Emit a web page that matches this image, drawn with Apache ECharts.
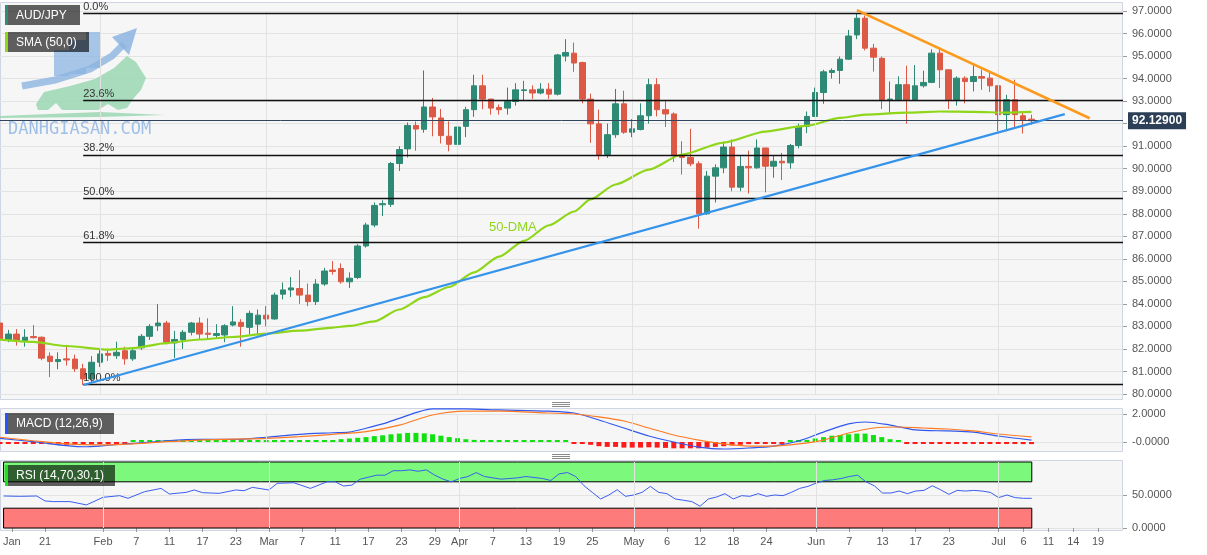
<!DOCTYPE html>
<html><head><meta charset="utf-8">
<script src="https://cdn.jsdelivr.net/npm/echarts@6/dist/echarts.min.js"></script>
<style>html,body{margin:0;padding:0;background:#fff;}#c{width:1207px;height:555px;}</style>
</head><body><div id="c"></div>
<script>
// ---------- DATA ----------
const START_DATE = '2022-01-14';
const N_CAT = 136; // trading days spanned by the axis (incl. future blank days)

const OPEN = [83.15,82.42,82.66,82.37,82.55,82.52,81.68,81.44,81.56,81.55,
81.12,80.67,81.41,81.80,81.70,81.92,81.56,82.05,82.56,83.03,
83.15,82.27,82.40,82.74,83.15,82.70,82.60,82.62,83.06,83.18,
82.96,83.10,83.50,83.33,84.43,84.62,84.68,84.39,84.10,84.88,
85.50,85.57,84.98,85.17,86.57,87.50,88.40,88.42,90.23,90.88,
91.92,91.75,92.74,92.25,91.44,91.08,91.88,92.62,93.68,93.09,
92.72,92.69,92.98,93.47,93.50,93.36,93.53,93.31,95.00,95.13,
94.71,93.09,91.99,90.63,91.51,92.88,91.62,91.74,92.35,93.73,
92.62,92.43,90.60,90.50,90.22,88.00,89.67,90.04,90.96,89.18,
90.10,90.04,90.92,90.11,90.33,90.26,91.03,91.88,92.32,93.38,
94.27,94.36,94.86,95.94,96.68,95.35,94.90,93.06,93.06,93.73,
93.06,93.68,93.83,95.13,94.39,93.06,94.02,93.87,94.09,94.02,
93.68,92.40,93.06,92.35,92.20];
const HIGH = [83.30,82.85,82.88,82.88,83.06,82.55,81.85,81.85,82.18,81.75,
81.34,81.68,81.97,82.00,82.32,82.10,82.05,82.66,83.10,83.99,
83.25,82.80,82.84,83.20,83.40,83.36,83.10,83.10,83.90,83.32,
83.70,83.75,83.90,84.50,84.95,85.19,85.50,84.90,85.10,85.60,
85.90,85.80,85.40,86.65,87.60,88.50,88.60,90.30,91.00,92.05,
92.10,94.36,93.14,92.65,92.10,92.20,92.75,94.17,94.17,93.10,
92.85,93.60,93.80,93.90,93.70,93.80,93.80,95.10,95.75,95.60,
94.75,93.33,92.62,92.00,93.54,93.46,92.20,92.90,94.00,94.02,
93.00,92.50,91.22,91.77,90.33,89.90,90.19,91.20,91.30,90.56,
90.80,91.30,90.92,90.60,90.70,91.10,92.00,92.54,93.60,94.39,
94.45,94.98,96.16,96.87,96.80,95.54,94.98,93.87,94.10,94.57,
94.60,94.35,95.30,95.35,94.40,94.10,94.10,94.69,94.40,94.30,
93.70,93.28,93.95,92.47,92.40];
const LOW = [82.15,82.30,82.15,82.10,82.46,81.50,80.75,81.10,81.26,80.98,
80.40,80.53,81.20,81.47,81.56,81.30,81.47,81.95,82.40,82.80,
82.20,81.60,82.00,82.60,82.40,82.44,82.45,82.30,83.00,82.10,
82.65,82.60,83.00,83.30,84.20,84.30,84.00,83.90,83.95,84.80,
85.30,84.90,84.70,85.10,86.50,87.40,87.90,88.30,89.90,90.50,
90.80,91.60,91.44,91.12,90.77,90.95,91.40,92.30,92.64,92.40,
92.40,92.40,92.80,93.00,93.10,93.30,93.10,93.25,94.76,94.30,
92.90,91.15,90.40,90.48,91.37,91.55,91.40,91.70,92.00,92.32,
91.85,90.30,89.74,90.11,87.34,87.95,88.50,89.80,89.00,89.00,
88.90,90.00,88.95,89.60,89.50,90.00,90.90,91.58,92.30,92.88,
94.00,93.77,94.83,95.75,95.25,94.31,92.65,92.44,93.00,92.00,
93.03,93.60,93.80,93.58,92.65,92.80,92.90,93.43,93.50,93.40,
91.66,91.66,91.81,91.56,91.95];
const CLOSE = [82.42,82.66,82.37,82.52,82.50,81.59,81.44,81.53,81.51,81.12,
80.67,81.41,81.78,81.72,81.85,81.56,81.92,82.56,83.00,83.15,
82.30,82.42,82.74,83.15,82.66,82.65,82.68,83.03,83.20,83.00,
83.58,83.50,83.33,84.39,84.62,84.71,84.39,84.10,84.88,85.46,
85.44,84.98,85.14,86.57,87.50,88.37,88.45,90.23,90.85,91.92,
91.76,92.74,92.30,91.47,91.08,91.85,92.62,93.68,93.09,92.69,
92.62,92.98,93.50,93.50,93.36,93.53,93.31,95.05,95.16,94.69,
93.09,91.99,90.63,91.51,92.88,91.62,91.77,92.35,93.73,92.62,
92.43,90.58,90.50,90.22,88.00,89.67,90.04,90.96,89.18,90.10,
90.04,90.92,90.11,90.33,90.26,91.03,91.88,92.32,93.38,94.30,
94.36,94.86,95.89,96.68,95.35,94.95,93.06,93.09,93.73,93.06,
93.68,93.83,95.13,94.39,93.06,94.02,93.87,94.09,94.02,93.68,
92.40,93.06,92.40,92.15,92.13];

// [day index, value]
const SMA50 = [[0,82.41],[4,82.31],[8,82.13],[13,81.97],[16,82.04],[20,82.26],[24,82.42],[28,82.53],[32,82.68],[36,82.81],[40,82.95],[42,83.02],[45,83.22],[48,83.75],[51,84.30],[54,84.75],[57,85.40],[60,86.10],[63,86.80],[66,87.49],[69,88.10],[71,88.64],[74,89.30],[78,89.96],[82,90.63],[87,91.16],[92,91.65],[96,91.87],[97,91.91],[101,92.26],[104,92.40],[109,92.49],[113,92.54],[117,92.52],[121,92.49],[124,92.52]];
const SUPPORT_LINE = [[10,80.40],[128,92.42]];
const RESIST_LINE = [[103,97.04],[131,92.24]];

const FIB_LABELS = ['0.0%','23.6%','38.2%','50.0%','61.8%','100.0%'];
const FIB_PRICES = [96.90,93.02,90.61,88.67,86.73,80.44];
const FIB_START = 10;
const LAST_PRICE = 92.129;
const LAST_PRICE_TEXT = '92.12900';

const MACD_HIST = [-0.05,-0.05,-0.05,-0.05,-0.06,-0.08,-0.15,-0.18,-0.20,-0.20,
-0.20,-0.18,-0.12,-0.05,-0.03,-0.02,0.02,0.05,0.08,0.12,
0.12,0.12,0.12,0.12,0.12,0.12,0.10,0.10,0.10,0.10,
0.10,0.10,0.10,0.10,0.10,0.10,0.12,0.12,0.12,0.12,
0.12,0.20,0.25,0.30,0.35,0.42,0.48,0.55,0.60,0.65,
0.65,0.62,0.55,0.45,0.35,0.28,0.20,0.15,0.10,0.06,
0.06,0.06,0.06,0.04,0.04,0.04,0.04,0.04,0.03,-0.03,
-0.10,-0.20,-0.30,-0.35,-0.35,-0.40,-0.40,-0.40,-0.38,-0.40,
-0.42,-0.45,-0.45,-0.45,-0.45,-0.40,-0.35,-0.30,-0.25,-0.20,
-0.15,-0.12,-0.10,-0.08,-0.05,0.03,0.08,0.15,0.25,0.35,
0.45,0.50,0.55,0.60,0.60,0.50,0.35,0.20,0.08,-0.05,
-0.10,-0.10,-0.10,-0.10,-0.10,-0.10,-0.10,-0.10,-0.10,-0.12,
-0.12,-0.12,-0.12,-0.15,-0.15];
const MACD_LINE = [[0,0.26],[4,0.02],[10,-0.34],[12,-0.29],[16,-0.10],[20,0.09],[24,0.19],[28,0.19],[32,0.34],[36,0.55],[40,0.66],[42,0.71],[44,0.98],[46,1.29],[48,1.69],[50,2.10],[52,2.36],[56,2.36],[60,2.29],[66,2.20],[69,2.07],[72,1.57],[75,1.00],[78,0.43],[81,0.00],[84,-0.36],[87,-0.50],[90,-0.43],[93,-0.29],[96,0.07],[99,0.71],[102,1.29],[104,1.43],[107,1.21],[110,0.86],[114,0.79],[117,0.71],[120,0.43],[124,0.14]];
const MACD_SIGNAL = [[0,0.34],[4,0.09],[8,-0.14],[12,-0.21],[16,-0.14],[20,0.02],[24,0.14],[28,0.20],[32,0.26],[36,0.38],[40,0.55],[44,0.74],[48,1.21],[52,1.93],[56,2.20],[60,2.20],[66,2.07],[69,2.00],[72,1.79],[75,1.50],[78,1.00],[81,0.50],[84,0.14],[87,-0.14],[90,-0.29],[93,-0.29],[96,-0.14],[99,0.14],[102,0.64],[105,1.00],[108,1.07],[111,1.00],[114,0.93],[117,0.79],[120,0.57],[124,0.36]];
const RSI = [[0,48.5],[2,48],[4,48.5],[5,41],[6,40],[8,40],[10,35],[12,46.5],[14,49],[15,45],[17,55],[19,60],[20,51.5],[22,54],[23,57.6],[24,53.5],[26,52.5],[28,57.6],[29,56.5],[30,61.6],[32,57.6],[33,67.7],[35,68.6],[37,60],[39,70],[40,70],[41,63.6],[42,65],[43,74],[45,80],[46,80],[47,86.8],[48,86.8],[49,88],[50,86],[51,88],[52,80],[53,74],[54,70],[55,75],[56,78],[57,84],[58,78],[59,76],[60,74],[62,76],[63,78],[65,75],[66,72],[67,82],[68,84],[69,78],[70,64],[71,54],[72,44],[73,50],[74,58],[75,48],[76,50],[77,54],[78,63],[79,54],[80,52],[81,44],[82,42],[83,40],[84,33],[85,44],[86,47],[87,52],[88,44],[89,49],[90,48],[91,52],[92,48],[93,50],[94,49],[95,54],[96,60],[97,63],[98,68],[99,72],[100,73],[101,75],[102,78],[103,80],[104,70],[105,64],[106,53],[107,53],[108,56],[109,52],[110,56],[111,57],[112,64],[113,58],[114,51],[115,57],[116,56],[117,57],[118,56],[119,54],[120,46],[121,50],[122,46],[123,45],[124,45]];
const RSI_BANDS = [[70,100],[0,30]];

const TICK_INDEX = [1,5,12,16,20,24,28,32,36,40,44,48,52,55,59,63,67,71,76,80,84,88,92,98,102,106,110,114,120,123,126,129,132];
const TICK_TEXT = ['Jan','21','Feb','7','11','17','23','Mar','7','11','17','23','29','Apr','7','13','19','25','May','6','12','18','24','Jun','7','13','17','23','Jul','6','11','14','19'];
const MONTH_START = [12,32,55,76,98,120];
const MACD_AXIS_TEXT = {0:'-0.0000', 2:'2.0000'};

// ---------- BUILD ----------
const DATES = [];
(function(){ let d = new Date(START_DATE+'T00:00:00Z'); while (DATES.length < N_CAT) { const w = d.getUTCDay(); if (w!==0 && w!==6) DATES.push(d.toISOString().slice(0,10)); d = new Date(d.getTime()+86400000); } })();
const CANDLES = OPEN.map((o,i)=>[o, CLOSE[i], LOW[i], HIGH[i]]);
const LAST_IDX = OPEN.length - 1;

const FONT = '"Liberation Sans", Arial, sans-serif';
const UP = '#2e8a74', DOWN = '#dc5a45';
const GL = 0, GW = 1123;
const isTick = (i) => TICK_INDEX.indexOf(i) >= 0;

const monthLines = MONTH_START.map(i => ({xAxis: DATES[i]}));
const monthMarker = {symbol:['none','none'], silent:true, animation:false, label:{show:false},
  lineStyle:{color:'#e2e2e2', width:1, type:'solid'}, data: monthLines};

const fibLines = FIB_PRICES.map((p,k)=>[
  {coord:[DATES[FIB_START], p], lineStyle:{color:'#111', width:1.3, type:'solid'},
   label:{show:true, position:'insideStartTop', formatter: FIB_LABELS[k], color:'#333', fontSize:11, fontFamily:FONT, distance:[0,1]}},
  {coord:[DATES[N_CAT-1], p]}]);
const priceLine = [
  {coord:[DATES[0], LAST_PRICE], lineStyle:{color:'#33455e', width:1, type:'solid'},
   label:{show:true, position:'end', formatter: LAST_PRICE_TEXT, color:'#fff', fontWeight:'bold', fontSize:12, fontFamily:FONT,
          backgroundColor:'#2d3f57', padding:[3,4,2,4], distance:5}},
  {coord:[DATES[N_CAT-1], LAST_PRICE]}];

const xAxes = [0,1,2].map(g => ({
  type:'category', gridIndex:g, data:DATES, boundaryGap:false,
  axisLine:{show:false}, splitLine:{show:false},
  axisTick: g===2 ? {show:true, interval:isTick, length:4, lineStyle:{color:'#9a9a9a'}} : {show:false},
  axisLabel: g===2 ? {show:true, interval:isTick, formatter:(v,i)=>{const k=TICK_INDEX.indexOf(i); return k>=0?TICK_TEXT[k]:'';}, color:'#555', fontSize:11, fontFamily:FONT, margin:8} : {show:false}
}));
const yCommon = {type:'value', position:'right', axisLine:{show:false},
  axisTick:{show:true, length:4, lineStyle:{color:'#9a9a9a'}},
  splitLine:{show:true, lineStyle:{color:'#e3e3e3', width:1}}};
const yAxes = [
  Object.assign({}, yCommon, {gridIndex:0, min:80, max:97, interval:1,
    axisLabel:{formatter:v=>v.toFixed(4), color:'#555', fontSize:11, fontFamily:FONT, margin:9}}),
  Object.assign({}, yCommon, {gridIndex:1, min:0, max:2, interval:2,
    axisLabel:{formatter:v=>MACD_AXIS_TEXT[v]||'', color:'#555', fontSize:11, fontFamily:FONT, margin:9}}),
  Object.assign({}, yCommon, {gridIndex:2, min:0, max:100, interval:50,
    axisTick:{show:true, length:4, lineStyle:{color:'#9a9a9a'}, customValues:[0,50]},
    axisLabel:{formatter:v=>v===100?'':v.toFixed(4), color:'#555', fontSize:11, fontFamily:FONT, margin:9}})
];

// decorative graphics
const G = [];
[[2,399],[408,451],[460,530]].forEach(p => G.push({type:'rect', z:-5, silent:true,
  shape:{x:0.5, y:p[0]+0.5, width:1122, height:p[1]-p[0]}, style:{fill:'#f6f6f6', stroke:'#cfd5e3', lineWidth:1}}));
// pane resize handles
[402,404,406,454,456,458].forEach(y => G.push({type:'line', z:50, silent:true, shape:{x1:552,y1:y+0.5,x2:570,y2:y+0.5}, style:{stroke:'#8a8a8a', lineWidth:1}}));
// watermark
G.push({type:'rect', z:1, silent:true, shape:{x:54,y:50,width:15,height:26}, style:{fill:'rgba(140,180,225,0.75)'}});
G.push({type:'rect', z:1, silent:true, shape:{x:69,y:40,width:17,height:34}, style:{fill:'rgba(140,180,225,0.75)'}});
G.push({type:'rect', z:1, silent:true, shape:{x:86,y:32,width:14,height:36}, style:{fill:'rgba(140,180,225,0.75)'}});
G.push({type:'polyline', z:1, silent:true, shape:{points:[[22,86],[55,80],[90,69],[112,56],[124,44]]}, style:{stroke:'rgba(140,180,225,0.8)', lineWidth:7, fill:null}});
G.push({type:'polygon', z:1, silent:true, shape:{points:[[137,28],[112,37],[129,55]]}, style:{fill:'rgba(140,180,225,0.85)'}});
G.push({type:'polygon', z:1, silent:true, shape:{points:[[36,104],[44,92],[70,86],[95,79],[114,68],[127,56],[136,62],[146,78],[141,90],[133,99],[127,108],[118,110],[108,104],[98,110],[62,110],[56,103],[48,110],[38,110]]}, style:{fill:'rgba(150,214,175,0.8)'}});
G.push({type:'polygon', z:1, silent:true, shape:{points:[[0,116],[100,112],[165,115],[100,117],[0,118]]}, style:{fill:'rgba(150,214,175,0.8)'}});
G.push({type:'text', z:1, silent:true, x:8, y:130, style:{text:'DANHGIASAN.COM', fill:'rgba(150,185,228,0.9)', font:'17px "DejaVu Sans Mono", monospace', verticalAlign:'middle'}});
// legend boxes
function legendBox(x,y,w,h,text,stripe){
  G.push({type:'rect', z:60, silent:true, shape:{x:x,y:y,width:w,height:h}, style:{fill:'rgba(0,0,0,0.62)'}});
  G.push({type:'rect', z:61, silent:true, shape:{x:x,y:y,width:3,height:h}, style:{fill:stripe}});
  G.push({type:'text', z:62, silent:true, x:x+11, y:y+h/2+0.5, style:{text:text, fill:'#fff', font:'12px '+FONT, verticalAlign:'middle'}});
}
legendBox(5,5,75,20,'AUD/JPY','#2e8b78');
legendBox(5,32,84,20,'SMA (50,0)','#8fd61a');
legendBox(5,413,109,21,'MACD (12,26,9)','#2255ff');
legendBox(5,465,110,21,'RSI (14,70,30,1)','#22dd22');
G.push({type:'text', z:40, silent:true, x:489, y:227, style:{text:'50-DMA', fill:'#8fd61a', font:'13px '+FONT, verticalAlign:'middle'}});

const option = {
  animation:false, backgroundColor:'#ffffff', textStyle:{fontFamily:FONT},
  grid:[{left:GL,width:GW,top:11,height:383},{left:GL,width:GW,top:414,height:28},{left:GL,width:GW,top:462,height:66}],
  xAxis:xAxes, yAxis:yAxes, graphic:{elements:G},
  series:[
    {type:'line', xAxisIndex:0, yAxisIndex:0, data:[], z:1, markLine:monthMarker},
    {type:'line', xAxisIndex:1, yAxisIndex:1, data:[], z:1, markLine:monthMarker},
    {type:'line', xAxisIndex:2, yAxisIndex:2, data:[], z:1, markLine:monthMarker},
    {type:'candlestick', name:'AUD/JPY', xAxisIndex:0, yAxisIndex:0, data:CANDLES, barWidth:6, clip:false, z:3,
     itemStyle:{color:UP, color0:DOWN, borderColor:UP, borderColor0:DOWN, borderWidth:1},
     markLine:{symbol:['none','none'], silent:true, animation:false, data: fibLines.concat([priceLine])}},
    {type:'line', name:'SMA (50,0)', xAxisIndex:0, yAxisIndex:0, data:SMA50, showSymbol:false, smooth:0.25, smoothMonotone:'x', clip:false, z:4,
     lineStyle:{color:'#8fd61a', width:2.2}, itemStyle:{color:'#8fd61a'}},
    {type:'line', name:'support', xAxisIndex:0, yAxisIndex:0, data:SUPPORT_LINE, showSymbol:false, clip:false, z:5,
     lineStyle:{color:'#3594ea', width:2.2}, itemStyle:{color:'#3594ea'}},
    {type:'line', name:'resistance', xAxisIndex:0, yAxisIndex:0, data:RESIST_LINE, showSymbol:false, clip:false, z:5,
     lineStyle:{color:'#fb9a1c', width:2.6}, itemStyle:{color:'#fb9a1c'}},
    {type:'bar', name:'hist', xAxisIndex:1, yAxisIndex:1, barWidth:5, barMinHeight:2, clip:false, z:3,
     data: MACD_HIST.map(v=>({value:v, itemStyle:{color: v>=0 ? '#11e011' : '#ff1a1a'}}))},
    {type:'line', name:'MACD', xAxisIndex:1, yAxisIndex:1, data:MACD_LINE, showSymbol:false, smooth:0.3, clip:false, z:4,
     lineStyle:{color:'#3058ee', width:1.2}, itemStyle:{color:'#3058ee'}},
    {type:'line', name:'Signal', xAxisIndex:1, yAxisIndex:1, data:MACD_SIGNAL, showSymbol:false, smooth:0.3, clip:false, z:4,
     lineStyle:{color:'#ff7b22', width:1.2}, itemStyle:{color:'#ff7b22'}},
    {type:'line', name:'RSI', xAxisIndex:2, yAxisIndex:2, data:RSI, showSymbol:false, clip:false, z:4,
     lineStyle:{color:'#3a5ef0', width:1}, itemStyle:{color:'#3a5ef0'},
     markArea:{silent:true, data: RSI_BANDS.map((b,k)=>[
       {xAxis:DATES[0], yAxis:b[0], itemStyle:{color: k===0 ? '#7cf97c' : '#fd7b7b', borderColor:'#000', borderWidth:1}},
       {xAxis:DATES[LAST_IDX], yAxis:b[1]}])}}
  ]
};
const chart = echarts.init(document.getElementById('c'));
chart.setOption(option);
</script></body></html>
